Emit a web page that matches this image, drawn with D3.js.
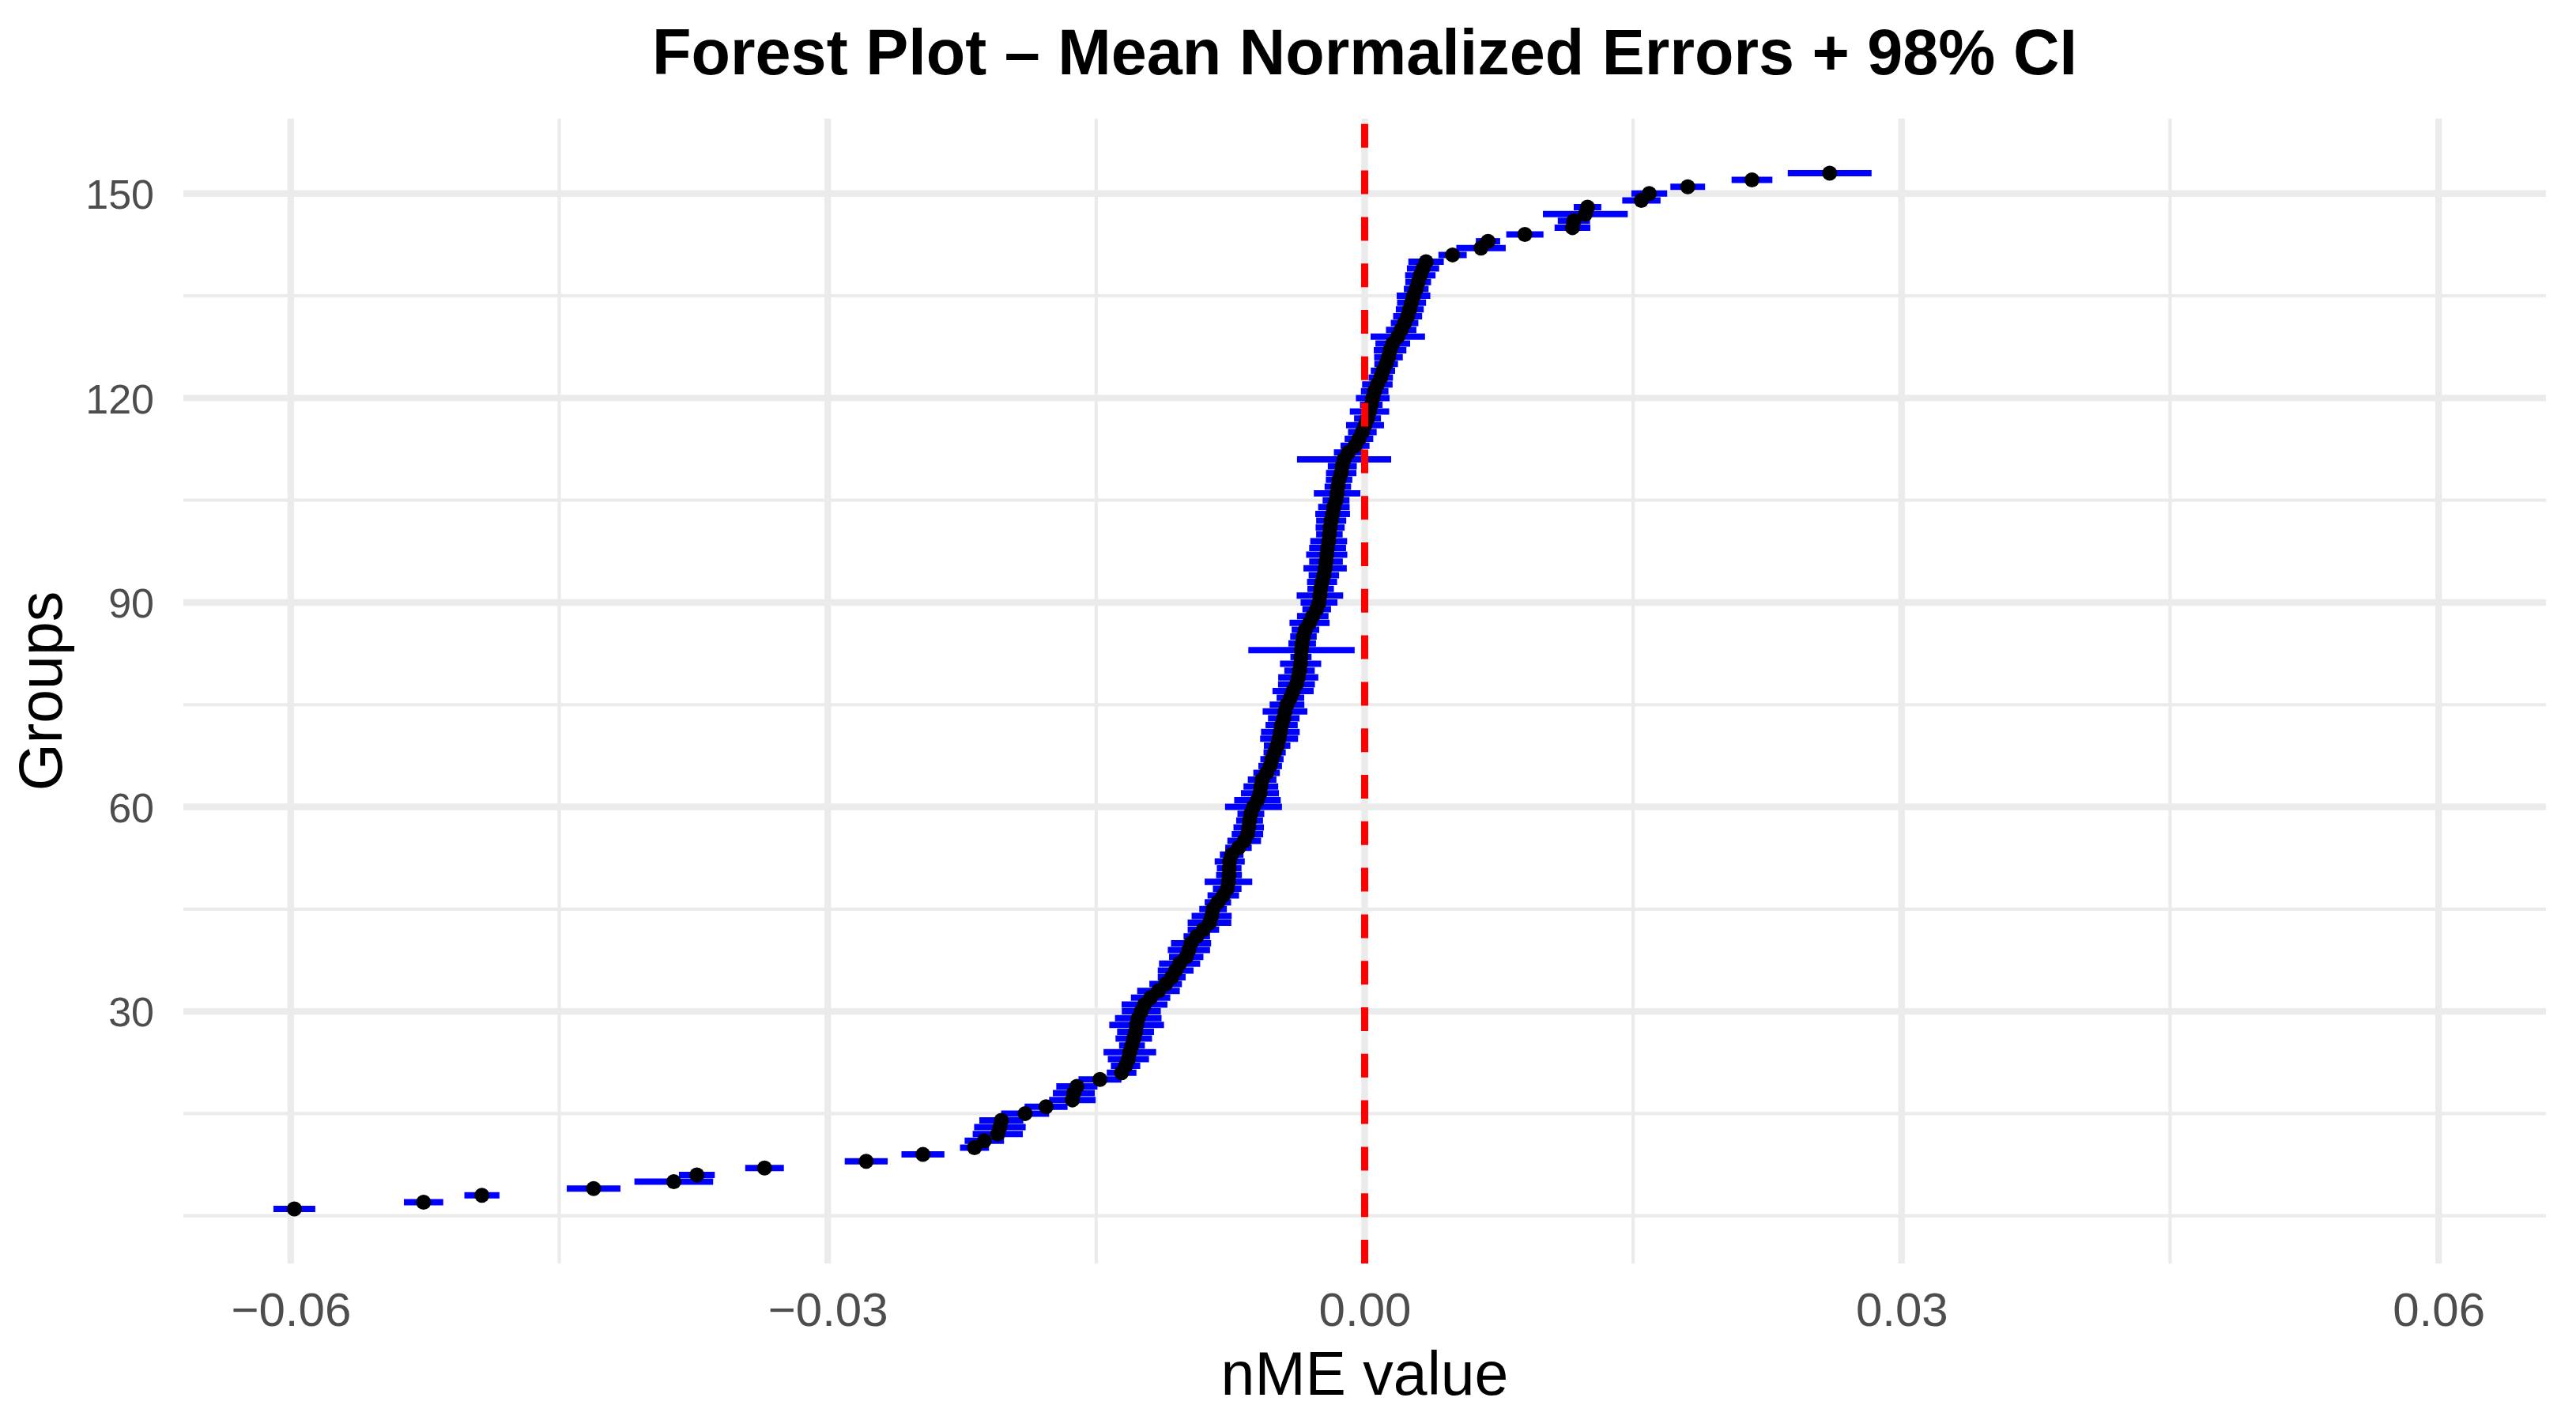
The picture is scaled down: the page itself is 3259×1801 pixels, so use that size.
<!DOCTYPE html>
<html><head><meta charset="utf-8">
<script src="https://cdn.jsdelivr.net/npm/d3@7"></script>
<style>html,body{margin:0;padding:0;background:#fff;} svg{display:block;}</style>
</head><body>
<svg id="chart" width="3259" height="1801"></svg>
<script>
// ---- data ----
const meanValues = [
-0.0598,-0.05258,-0.04932,-0.04308,-0.0386,-0.03731,-0.03353,-0.02785,-0.02468,-0.0218,
-0.02125,-0.0205,-0.02038,-0.0203,-0.01897,-0.0178,-0.01633,-0.01625,-0.01608,-0.01479,
-0.01358,-0.01336,-0.0132,-0.01312,-0.013,-0.0129,-0.0128,-0.01274,-0.01265,-0.01248,
-0.0123,-0.01196,-0.01152,-0.01112,-0.01078,-0.01056,-0.01034,-0.00997,-0.00982,-0.0097,
-0.00938,-0.00901,-0.00867,-0.00855,-0.00847,-0.0082,-0.0079,-0.00768,-0.00761,-0.00758,
-0.00757,-0.00754,-0.00743,-0.00705,-0.00673,-0.00655,-0.00648,-0.00643,-0.00636,-0.00621,
-0.00599,-0.00585,-0.0058,-0.00573,-0.00548,-0.00528,-0.00518,-0.00503,-0.00489,-0.00478,
-0.00471,-0.00464,-0.00452,-0.00445,-0.00434,-0.00415,-0.004,-0.00381,-0.00371,-0.00364,
-0.00358,-0.00356,-0.00353,-0.00349,-0.00342,-0.00331,-0.00308,-0.0029,-0.00268,-0.00255,
-0.0025,-0.00246,-0.00238,-0.00228,-0.00221,-0.00216,-0.00212,-0.00207,-0.00201,-0.00197,
-0.00193,-0.00187,-0.00179,-0.00172,-0.0016,-0.00154,-0.0015,-0.00143,-0.00131,-0.00125,
-0.00115,-0.00091,-0.00054,-0.00032,-0.00013,0.00002,0.00016,0.00027,0.00037,0.00045,
0.00056,0.00071,0.0009,0.00102,0.0012,0.00133,0.00142,0.00157,0.00185,0.00204,
0.00223,0.0024,0.00252,0.00262,0.00273,0.00288,0.00299,0.00311,0.00326,0.00343,
0.00491,0.0065,0.00689,0.00895,0.01161,0.01169,0.01233,0.01245,0.01546,0.0159,
0.01805,0.02164,0.02598
];
const ciHalfWidths = [
0.00117,0.0011,0.00098,0.0015,0.0022,0.001,0.00108,0.0012,0.0012,0.00081,
0.0011,0.0014,0.00144,0.00123,0.00134,0.0012,0.0013,0.00117,0.00115,0.0012,
0.00083,0.00082,0.00115,0.00147,0.00072,0.00102,0.00103,0.00153,0.0013,0.00109,
0.00128,0.0011,0.00119,0.00091,0.00078,0.001,0.00115,0.00096,0.00118,0.00112,
0.00074,0.00088,0.00122,0.00112,0.00077,0.00074,0.00088,0.0008,0.00133,0.00072,
0.00069,0.00084,0.00066,0.00074,0.00094,0.00088,0.00085,0.00075,0.00075,0.00159,
0.0013,0.00106,0.00097,0.0008,0.00074,0.00066,0.00065,0.00062,0.00074,0.00106,
0.00108,0.0009,0.00088,0.00125,0.00097,0.00077,0.00115,0.00103,0.00112,0.00085,
0.00115,0.00059,0.00297,0.00077,0.00074,0.00077,0.00112,0.00088,0.0008,0.00103,
0.0013,0.00074,0.00084,0.00085,0.00121,0.00094,0.00115,0.00103,0.00103,0.00074,
0.00081,0.00084,0.00097,0.00088,0.00075,0.0013,0.00074,0.00074,0.00085,0.00081,
0.00263,0.00081,0.00081,0.0008,0.0008,0.00106,0.00075,0.0011,0.00063,0.00094,
0.00077,0.00085,0.00068,0.00068,0.00066,0.0008,0.00091,0.00097,0.00152,0.00085,
0.00077,0.00081,0.00078,0.00081,0.00094,0.00069,0.00072,0.00085,0.0009,0.00099,
0.00079,0.00138,0.00068,0.00104,0.001,0.0009,0.00237,0.00077,0.00107,0.001,
0.00097,0.00114,0.00234
];
const groupIds = meanValues.map((d, i) => i + 1);

const xTickValues = [-0.06, -0.03, 0, 0.03, 0.06];
const xTickLabels = ["\u22120.06", "\u22120.03", "0.00", "0.03", "0.06"];
const xMinorValues = [-0.045, -0.015, 0.015, 0.045];
const yTickValues = [30, 60, 90, 120, 150];
const yTickLabels = ["30", "60", "90", "120", "150"];
const yMinorValues = [0, 15, 45, 75, 105, 135];
const referenceValue = [0];

const titleText = "Forest Plot \u2013 Mean Normalized Errors + 98% CI";
const xTitleText = "nME value";
const yTitleText = "Groups";

// ---- layout ----
const FONT = "'Liberation Sans', Arial, Helvetica, sans-serif";
const panel = {left: 232, right: 3221, top: 150, bottom: 1598};
const x = d3.scaleLinear().domain([-0.066, 0.066]).range([panel.left, panel.right]);
const y = d3.scaleLinear().domain([-7, 161]).range([panel.bottom, panel.top]);

const rows = groupIds.map((g, i) => ({
  group: g, mean: meanValues[i],
  lower: meanValues[i] - ciHalfWidths[i], upper: meanValues[i] + ciHalfWidths[i]
}));

const svg = d3.select("#chart");
svg.append("rect").attr("width", 3259).attr("height", 1801).attr("fill", "#fff");

const grid = svg.append("g");
const gridColor = "#EBEBEB";
// minor grid
grid.selectAll(".vmin").data(xMinorValues).join("line")
  .attr("x1", d => x(d)).attr("x2", d => x(d)).attr("y1", panel.top).attr("y2", panel.bottom)
  .attr("stroke", gridColor).attr("stroke-width", 4.2);
grid.selectAll(".hmin").data(yMinorValues).join("line")
  .attr("y1", d => y(d)).attr("y2", d => y(d)).attr("x1", panel.left).attr("x2", panel.right)
  .attr("stroke", gridColor).attr("stroke-width", 4.2);
// major grid
grid.selectAll(".vmaj").data(xTickValues).join("line")
  .attr("x1", d => x(d)).attr("x2", d => x(d)).attr("y1", panel.top).attr("y2", panel.bottom)
  .attr("stroke", gridColor).attr("stroke-width", 8.4);
grid.selectAll(".hmaj").data(yTickValues).join("line")
  .attr("y1", d => y(d)).attr("y2", d => y(d)).attr("x1", panel.left).attr("x2", panel.right)
  .attr("stroke", gridColor).attr("stroke-width", 8.4);

// error bars
svg.append("g").selectAll("line").data(rows).join("line")
  .attr("x1", d => x(d.lower)).attr("x2", d => x(d.upper))
  .attr("y1", d => y(d.group)).attr("y2", d => y(d.group))
  .attr("stroke", "#0000FF").attr("stroke-width", 8).attr("stroke-linecap", "butt");

// points
svg.append("g").selectAll("circle").data(rows).join("circle")
  .attr("cx", d => x(d.mean)).attr("cy", d => y(d.group)).attr("r", 9.5).attr("fill", "#000");

// reference line
svg.append("g").selectAll("line").data(referenceValue).join("line")
  .attr("x1", d => x(d)).attr("x2", d => x(d)).attr("y1", panel.bottom).attr("y2", panel.top)
  .attr("stroke", "#FF0000").attr("stroke-width", 9).attr("stroke-dasharray", "30 28.8");

// axes
const xAxis = d3.axisBottom(x).tickValues(xTickValues)
  .tickFormat((d, i) => xTickLabels[i]).tickSize(0).tickPadding(36);
const gx = svg.append("g").attr("transform", `translate(0,${panel.bottom})`).call(xAxis);
gx.select(".domain").remove();
gx.selectAll("text").attr("font-family", FONT).attr("font-size", 60).attr("fill", "#4D4D4D");

const yAxis = d3.axisLeft(y).tickValues(yTickValues)
  .tickFormat((d, i) => yTickLabels[i]).tickSize(0).tickPadding(37);
const gy = svg.append("g").attr("transform", `translate(${panel.left},0)`).call(yAxis);
gy.select(".domain").remove();
gy.selectAll("text").attr("font-family", FONT).attr("font-size", 52).attr("fill", "#4D4D4D").attr("dy", "0.36em");

// titles
svg.append("text").attr("x", (panel.left + panel.right) / 2).attr("y", 94)
  .attr("text-anchor", "middle").attr("font-family", FONT).attr("font-weight", "bold")
  .attr("font-size", 81).attr("fill", "#000").text(titleText);
svg.append("text").attr("x", (panel.left + panel.right) / 2).attr("y", 1764)
  .attr("text-anchor", "middle").attr("font-family", FONT)
  .attr("font-size", 77).attr("fill", "#000").text(xTitleText);
svg.append("text").attr("transform", `translate(78,${(panel.top + panel.bottom) / 2}) rotate(-90)`)
  .attr("text-anchor", "middle").attr("font-family", FONT)
  .attr("font-size", 77).attr("fill", "#000").text(yTitleText);
</script>
</body></html>
